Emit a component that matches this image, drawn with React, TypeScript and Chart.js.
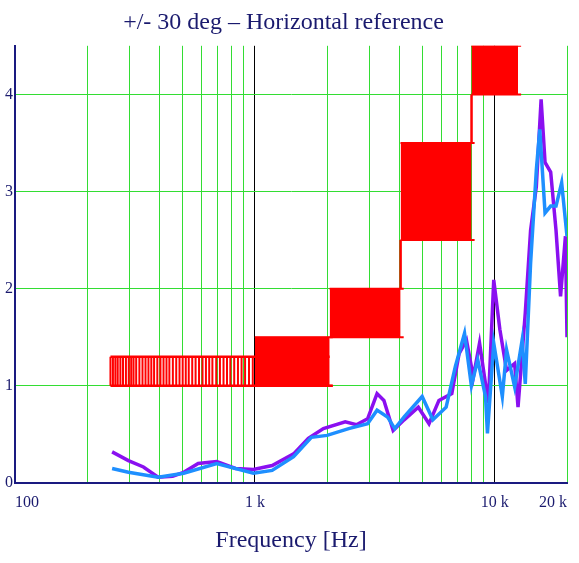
import { useEffect, useRef } from 'react';
import { Chart, registerables } from 'chart.js';

Chart.register(...registerables);

const blueFreq = [254, 297, 395, 505, 693, 986, 1180, 1450, 1720, 2000, 2460, 2950, 3230, 3570, 3830, 4190, 4980, 5520, 6270, 6850, 7480, 7990, 8490, 9150, 9320, 9900, 10750, 11200, 12100, 13000, 13400, 14100, 14900, 15400, 16200, 17100, 18000, 19000, 20000];
const blueVal = [0.15, 0.11, 0.06, 0.1, 0.2, 0.1, 0.13, 0.27, 0.47, 0.49, 0.56, 0.61, 0.75, 0.68, 0.56, 0.68, 0.89, 0.65, 0.78, 1.2, 1.54, 1.0, 1.27, 0.89, 0.51, 1.44, 0.89, 1.37, 0.99, 1.47, 1.02, 2.26, 3.22, 3.64, 2.78, 2.85, 2.85, 3.09, 2.54];

const purpleFreq = [254, 297, 343, 395, 454, 505, 580, 693, 830, 986, 1180, 1450, 1670, 1930, 2380, 2650, 2950, 3230, 3450, 3770, 4190, 4800, 5320, 5850, 6620, 7100, 7620, 8140, 8640, 9400, 9900, 10500, 11200, 12100, 12500, 13400, 14100, 14900, 15600, 16200, 17100, 18000, 18800, 19700, 20000];
const purpleVal = [0.32, 0.23, 0.165, 0.06, 0.07, 0.11, 0.2, 0.22, 0.15, 0.14, 0.18, 0.3, 0.46, 0.56, 0.63, 0.6, 0.66, 0.92, 0.85, 0.54, 0.65, 0.78, 0.61, 0.85, 0.92, 1.33, 1.47, 1.09, 1.44, 0.82, 2.09, 1.58, 1.16, 1.23, 0.78, 1.75, 2.6, 3.05, 3.95, 3.3, 3.2, 2.6, 1.92, 2.54, 1.5];

// tolerance boxes: [fLow, fHigh, yLow, yHigh]
const boxes = [
  [1000, 2050, 1, 1.5],
  [2050, 4050, 1.5, 2],
  [4050, 8000, 2.5, 3.5],
  [8000, 12500, 4, 4.5],
];
const hatchBox = [250, 2050, 1, 1.3];
const hatchFreq = [250, 256, 262, 268, 275, 282, 290, 298, 305, 312, 320, 330, 340, 350, 360, 370, 380, 392, 404, 416, 428, 440, 455, 470, 485, 500, 515, 530, 548, 566, 585, 605, 625, 645, 665, 690, 715, 740, 765, 790, 820, 850, 880, 910, 945, 980];
// vertical connectors between boxes
const connectors = [[4050, 2, 2.5], [8000, 3.5, 4]];

const xGrid = [100, 200, 300, 400, 500, 600, 700, 800, 900, 1000, 2000, 3000, 4000, 5000, 6000, 7000, 8000, 9000, 10000, 20000];
const xLabels: Record<number, string> = { 100: '100', 1000: '1 k', 10000: '10 k', 20000: '20 k' };

const RED = '#ff0000';

export default function App() {
  const ref = useRef<HTMLCanvasElement>(null);

  useEffect(() => {
    document.body.style.margin = '0';
    if (!ref.current) return;
    const datasets: any[] = [];
    boxes.forEach(([f0, f1, y0, y1]) => {
      datasets.push({ data: [{ x: f0, y: y0 }, { x: f1 * 1.03, y: y0 }], borderColor: RED, borderWidth: 2, pointRadius: 0 });
      datasets.push({ data: [{ x: f0, y: y1 }, { x: f1 * 1.03, y: y1 }], borderColor: RED, borderWidth: 2, pointRadius: 0 });
      datasets.push({ data: [{ x: f0, y: y0 }, { x: f1, y: y0 }], borderColor: RED, borderWidth: 1, pointRadius: 0 });
      datasets.push({ data: [{ x: f0, y: y1 }, { x: f1, y: y1 }], borderColor: RED, borderWidth: 1, pointRadius: 0, fill: '-1', backgroundColor: RED });
    });
    const [h0, h1, hy0, hy1] = hatchBox;
    datasets.push({ data: [{ x: h0, y: hy0 }, { x: h1 * 1.03, y: hy0 }], borderColor: RED, borderWidth: 2.5, pointRadius: 0 });
    datasets.push({ data: [{ x: h0, y: hy1 }, { x: h1, y: hy1 }], borderColor: RED, borderWidth: 2.5, pointRadius: 0 });
    const hatch: any[] = [];
    hatchFreq.forEach(f => { hatch.push({ x: f, y: hy0 }, { x: f, y: hy1 }, { x: f, y: null }); });
    datasets.push({ data: hatch, borderColor: RED, borderWidth: 2, pointRadius: 0, spanGaps: false });
    connectors.forEach(([f, a, b]) => {
      datasets.push({ data: [{ x: f, y: a }, { x: f, y: b }], borderColor: RED, borderWidth: 2.5, pointRadius: 0 });
    });
    datasets.push({ data: blueFreq.map((f, i) => ({ x: f, y: blueVal[i] })), borderColor: '#1e8fff', borderWidth: 3.5, pointRadius: 0 });
    datasets.push({ data: purpleFreq.map((f, i) => ({ x: f, y: purpleVal[i] })), borderColor: '#8a10f0', borderWidth: 3.5, pointRadius: 0 });

    const font = { family: '"Liberation Serif", "Times New Roman", serif' };
    const chart = new Chart(ref.current, {
      type: 'line',
      data: { datasets },
      options: {
        animation: false,
        responsive: false,
        layout: { padding: { left: 0, right: 12, top: 2, bottom: 4 } },
        plugins: {
          legend: { display: false },
          tooltip: { enabled: false },
          title: { display: true, text: '+/- 30 deg \u2013 Horizontal reference', color: '#1a1a6e', font: { ...font, size: 24, weight: 'normal' }, padding: { top: 6, bottom: 9 } },
        },
        scales: {
          x: {
            type: 'logarithmic', min: 100, max: 20000,
            afterBuildTicks: (axis: any) => { axis.ticks = xGrid.map(v => ({ value: v })); },
            afterFit: (s: any) => { s.paddingRight = 0; s.paddingLeft = 0; },
            ticks: { autoSkip: false, maxRotation: 0, align: 'inner', color: '#1a1a6e', font: { ...font, size: 16 }, padding: 10, callback: (v: any) => xLabels[v] ?? '' },
            grid: { color: (c: any) => (c.tick && (c.tick.value === 1000 || c.tick.value === 10000)) ? '#000000' : '#33dd33', lineWidth: 1, drawTicks: false },
            border: { color: '#1a1a80', width: 2 },
            title: { display: true, text: 'Frequency [Hz]', color: '#1a1a6e', font: { ...font, size: 24 }, padding: { top: 4 } },
          },
          y: {
            min: 0, max: 4.5,
            afterBuildTicks: (axis: any) => { axis.ticks = [0, 1, 2, 3, 4].map(v => ({ value: v })); },
            afterFit: (s: any) => { s.width = 15; },
            ticks: { color: '#1a1a6e', font: { ...font, size: 16 }, padding: 2 },
            grid: { color: (c: any) => c.tick && c.tick.value === 0 ? '#1a1a80' : '#33dd33', lineWidth: 1, drawTicks: false },
            border: { color: '#1a1a80', width: 2 },
          },
        },
      },
    } as any);
    return () => chart.destroy();
  }, []);

  return <canvas ref={ref} width={579} height={563} style={{ display: 'block' }} />;
}
